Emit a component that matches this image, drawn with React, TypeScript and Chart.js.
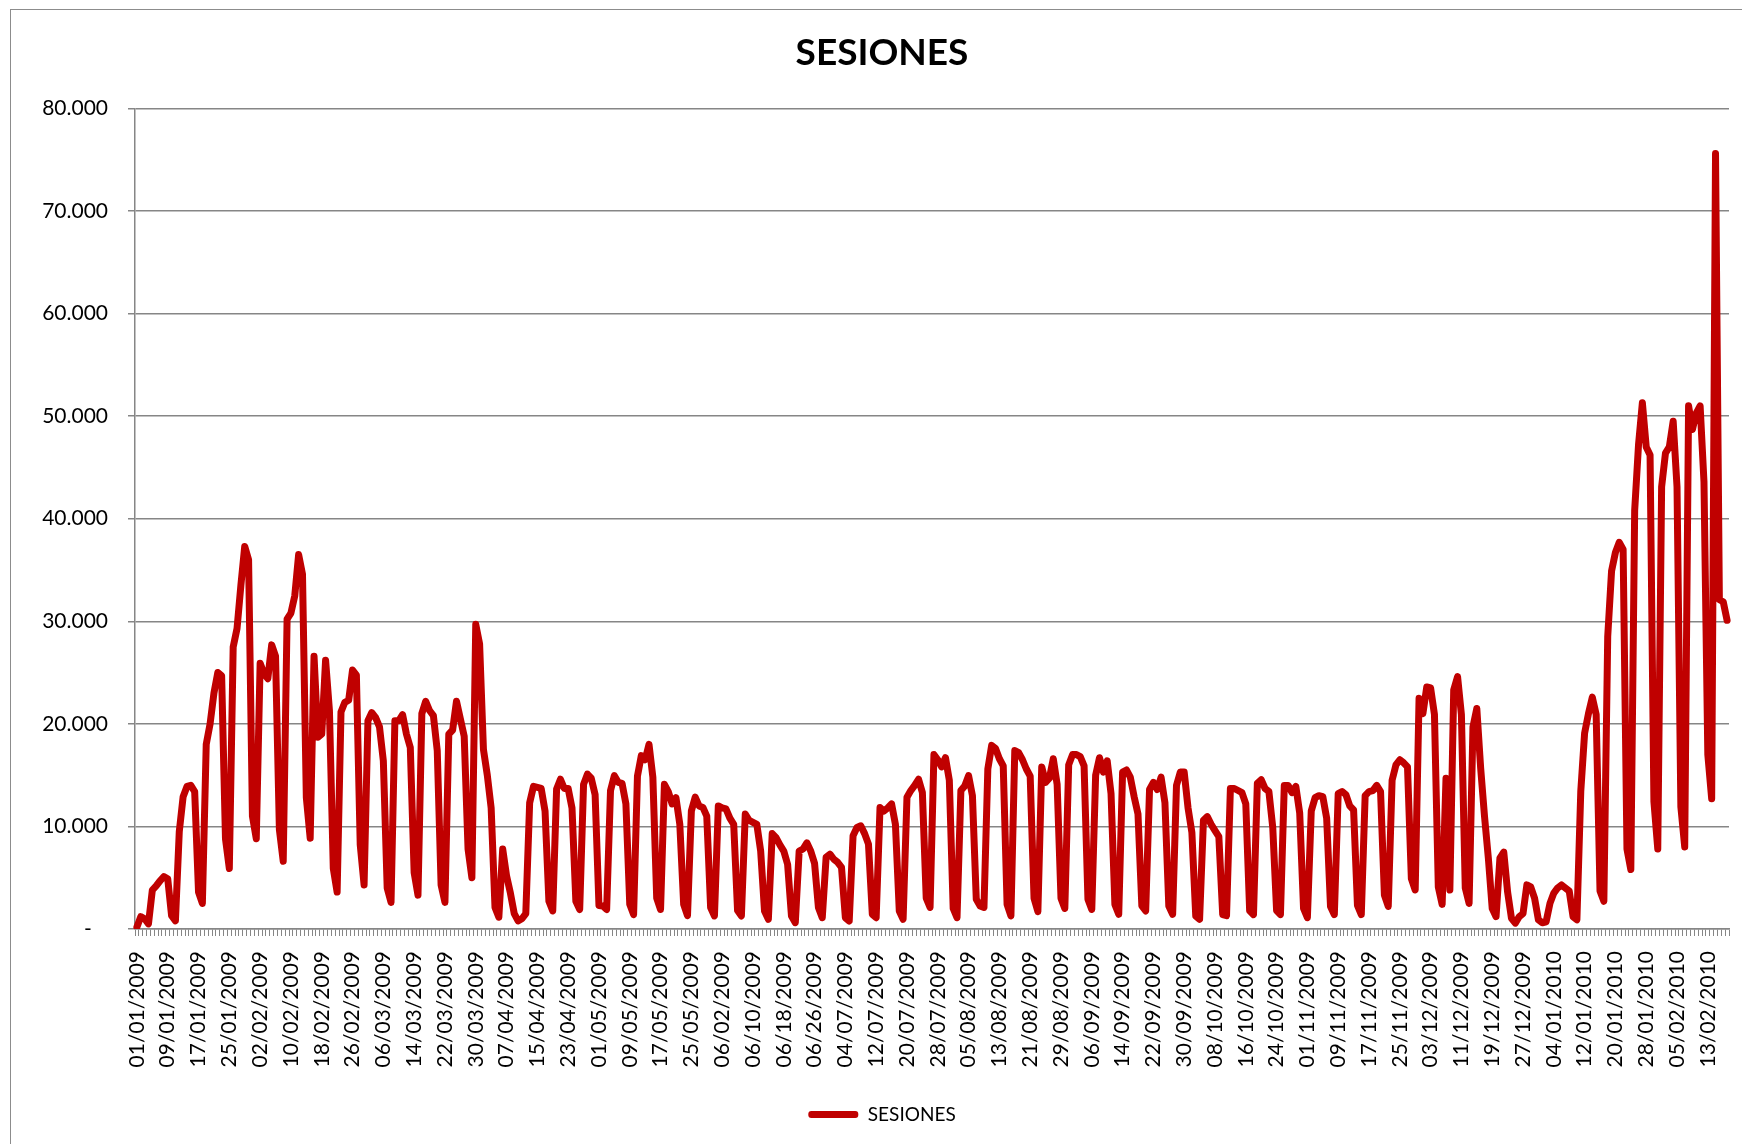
import React, { useEffect, useRef } from "react";
import { Chart, registerables } from "chart.js";

Chart.register(...registerables);

const TITLE = "SESIONES";
const SERIES_NAME = "SESIONES";

// Tick labels shown every 8th day on the category axis (as printed in the source chart)
const tickLabels = [
  "01/01/2009", "09/01/2009", "17/01/2009", "25/01/2009", "02/02/2009", "10/02/2009",
  "18/02/2009", "26/02/2009", "06/03/2009", "14/03/2009", "22/03/2009", "30/03/2009",
  "07/04/2009", "15/04/2009", "23/04/2009", "01/05/2009", "09/05/2009", "17/05/2009",
  "25/05/2009", "06/02/2009", "06/10/2009", "06/18/2009", "06/26/2009", "04/07/2009",
  "12/07/2009", "20/07/2009", "28/07/2009", "05/08/2009", "13/08/2009", "21/08/2009",
  "29/08/2009", "06/09/2009", "14/09/2009", "22/09/2009", "30/09/2009", "08/10/2009",
  "16/10/2009", "24/10/2009", "01/11/2009", "09/11/2009", "17/11/2009", "25/11/2009",
  "03/12/2009", "11/12/2009", "19/12/2009", "27/12/2009", "04/01/2010", "12/01/2010",
  "20/01/2010", "28/01/2010", "05/02/2010", "13/02/2010",
];
const TICK_EVERY = 8;

// Daily sessions, 01/01/2009 .. 18/02/2010
const sesiones = [
  200, 1200, 1000, 500,
  3800, 4200, 4700, 5100, 4900, 1300, 800,
  9500, 12900, 13900, 14000, 13400, 3600, 2500,
  18000, 20000, 23000, 25000, 24700, 8800, 5900,
  27500, 29300, 33500, 37300, 36000, 11000, 8800,
  25900, 24900, 24400, 27700, 26600, 9700, 6600,
  30200, 30800, 32500, 36500, 34600, 12800, 8850,
  26600, 18700, 19000, 26200, 21300, 5900, 3600,
  21150, 22100, 22300, 25250, 24750, 8200, 4300,
  20300, 21100, 20600, 19700, 16400, 4000, 2600,
  20300, 20300, 20900, 19000, 17700, 5500, 3300,
  21000, 22200, 21300, 20800, 17400, 4300, 2600,
  19000, 19400, 22200, 20500, 18800, 7800, 5000,
  29700, 27800, 17500, 15000, 11800, 2100, 1150,
  7800, 5200, 3500, 1500, 800, 1000, 1500,
  12300, 13900, 13800, 13700, 11500, 2700, 1760,
  13650, 14600, 13700, 13700, 11800, 2700, 1900,
  14100, 15100, 14700, 13100, 2300, 2250, 1900,
  13500, 14950, 14300, 14200, 12200, 2400, 1400,
  14900, 16900, 16500, 18000, 14800, 3000, 1900,
  14100, 13400, 12200, 12800, 10200, 2400, 1300,
  11500, 12850, 12000, 11850, 11000, 2100, 1270,
  12000, 11800, 11700, 10800, 10200, 1800, 1270,
  11200, 10600, 10400, 10200, 7600, 1760, 950,
  9300, 8900, 8200, 7600, 6300, 1270, 620,
  7600, 7800, 8400, 7600, 6400, 2100, 1100,
  7000, 7300, 6800, 6500, 6000, 1100, 780,
  9100, 9900, 10060, 9300, 8270, 1430, 1100,
  11850, 11500, 11800, 12200, 10200, 1760, 950,
  12850, 13500, 14000, 14600, 13300, 3000, 2100,
  17000, 16500, 15800, 16700, 14500, 2000, 1100,
  13500, 13950, 14950, 13000, 2900, 2250, 2100,
  15600, 17900, 17600, 16600, 15900, 2400, 1270,
  17400, 17200, 16500, 15600, 14900, 3000, 1700,
  15800, 14300, 14700, 16600, 14100, 3000, 2000,
  16000, 17000, 17000, 16800, 15900, 2900, 1900,
  15000, 16700, 15300, 16400, 13200, 2400, 1430,
  15300, 15500, 14800, 12900, 11200, 2250, 1760,
  13600, 14300, 13600, 14800, 12300, 2250, 1430,
  14000, 15300, 15300, 11800, 9400, 1270, 950,
  10600, 10950, 10200, 9600, 9000, 1400, 1300,
  13700, 13700, 13500, 13300, 12200, 1770, 1400,
  14200, 14550, 13700, 13400, 9900, 1800, 1400,
  14000, 14000, 13300, 13900, 11300, 2000, 1100,
  11500, 12800, 13000, 12900, 10800, 2200, 1400,
  13200, 13400, 13100, 12000, 11600, 2300, 1400,
  13000, 13400, 13500, 14000, 13400, 3300, 2200,
  14500, 16000, 16500, 16200, 15800, 4900, 3800,
  22500, 21000, 23600, 23500, 20900, 4100, 2400,
  14700, 3800, 23300, 24600, 20900, 4000, 2500,
  19700, 21500, 15700, 11000, 6900, 2000, 1200,
  6900, 7500, 3600, 1050, 570, 1200, 1500,
  4300, 4100, 3000, 900, 600, 700, 2500,
  3500, 4000, 4300, 4000, 3700, 1200, 900,
  13400, 19100, 21000, 22600, 20900, 3700, 2700,
  28500, 34900, 36700, 37700, 37000, 7800, 5800,
  40800, 47200, 51300, 47000, 46200, 12400, 7800,
  43100, 46400, 47000, 49500, 43100, 11900, 8000,
  51000, 48700, 50300, 51000, 43600, 17000, 12700,
  75600, 32100, 31900, 30100,
];

const Y_MIN = 0;
const Y_MAX = 80000;
const Y_STEP = 10000;

const RED = "#C00000";
const GRAY = "#868686";
const FONT = "Lato";

function fmtThousands(v: number): string {
  if (v === 0) return "-   ";
  return String(Math.round(v)).replace(/\B(?=(\d{3})+(?!\d))/g, ".");
}

export default function App() {
  const ref = useRef<HTMLCanvasElement | null>(null);

  useEffect(() => {
    const canvas = ref.current;
    if (!canvas) return;

    const framePlugin = {
      id: "frame",
      beforeDraw(chart: any) {
        const ctx = chart.ctx;
        ctx.save();
        ctx.fillStyle = "#ffffff";
        ctx.fillRect(0, 0, chart.width, chart.height);
        ctx.strokeStyle = "#8c8c8c";
        ctx.lineWidth = 1;
        ctx.strokeRect(10.5, 9.5, chart.width, chart.height + 40);
        ctx.restore();
      },
    };

    const chart = new Chart(canvas, {
      type: "line",
      data: {
        labels: sesiones.map((_, i) => String(i)),
        datasets: [
          {
            label: SERIES_NAME,
            data: sesiones,
            borderColor: RED,
            backgroundColor: RED,
            borderWidth: 7,
            pointRadius: 0,
            pointHoverRadius: 0,
            tension: 0,
            borderJoinStyle: "round",
            borderCapStyle: "round",
            fill: false,
          },
        ],
      },
      options: {
        responsive: false,
        animation: false,
        devicePixelRatio: 1,
        layout: { padding: { left: 35, right: 35, top: 0, bottom: 10 } },
        plugins: {
          title: {
            display: true,
            text: TITLE,
            color: "#000",
            font: { family: FONT, size: 37, weight: "bold" },
            padding: { top: 31, bottom: 33 },
          },
          legend: {
            display: true,
            position: "bottom",
            labels: {
              color: "#000",
              font: { family: FONT, size: 19 },
              boxWidth: 50,
              boxHeight: 7,
              padding: 10,
              useBorderRadius: true,
              borderRadius: 3,
              generateLabels: (c: any) =>
                Chart.defaults.plugins.legend.labels
                  .generateLabels(c)
                  .map((l: any) => ({ ...l, lineWidth: 0, fillStyle: RED, strokeStyle: RED })),
            },
          },
          tooltip: { enabled: false },
        },
        scales: {
          x: {
            type: "category",
            offset: true,
            grid: {
              display: true,
              drawOnChartArea: false,
              drawTicks: true,
              tickLength: 7,
              color: GRAY,
              lineWidth: 1,
              offset: true,
            },
            border: { display: true, color: GRAY, width: 1.5 },
            ticks: {
              autoSkip: false,
              maxRotation: 90,
              minRotation: 90,
              padding: 15,
              color: "#000",
              font: { family: FONT, size: 21 },
              callback: (_v: any, index: number) =>
                index % TICK_EVERY === 0 ? tickLabels[index / TICK_EVERY] ?? "" : "",
            },
            afterFit: (scale: any) => {
              scale.height = 166;
              scale.paddingLeft = 0;
              scale.paddingRight = 0;
            },
          },
          y: {
            min: Y_MIN,
            max: Y_MAX,
            grid: {
              color: GRAY,
              lineWidth: 1.5,
              drawTicks: true,
              tickLength: 7,
            },
            border: { display: true, color: GRAY, width: 1.5 },
            ticks: {
              stepSize: Y_STEP,
              padding: 20,
              color: "#000",
              font: { family: FONT, size: 21 },
              callback: (v: any) => fmtThousands(Number(v)),
            },
            afterFit: (scale: any) => {
              scale.width = 100;
              scale.paddingTop = 0;
              scale.paddingBottom = 0;
            },
          },
        },
      },
      plugins: [framePlugin],
    } as any);

    return () => chart.destroy();
  }, []);

  return (
    <div
      style={{
        position: "fixed",
        left: 0,
        top: 0,
        width: 1742,
        height: 1144,
        overflow: "hidden",
        background: "#fff",
      }}
    >
      <canvas ref={ref} width={1764} height={1144} style={{ display: "block" }} />
    </div>
  );
}
